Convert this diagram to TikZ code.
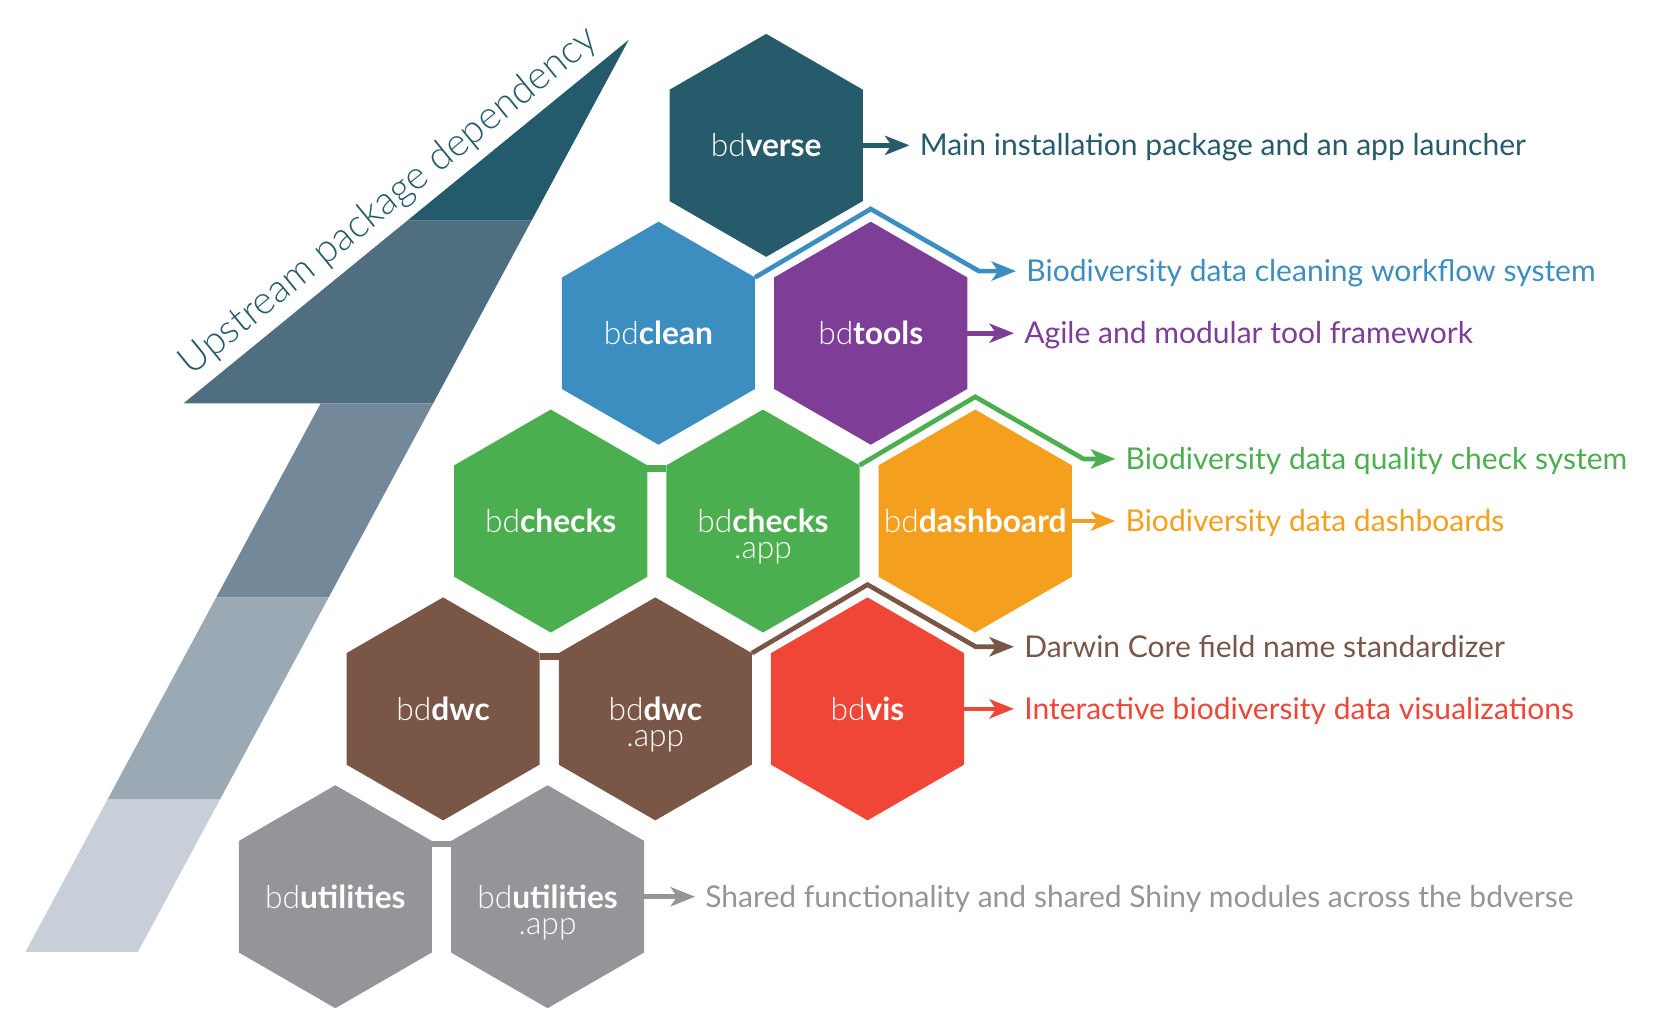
\documentclass[tikz,border=0pt]{standalone}
\usepackage{fontspec}
\setmainfont{Lato}
\IfFontExistsTF{Lato Light}{\newfontfamily\thinfont{Lato Light}}{\newfontfamily\thinfont{Lato}}
\usetikzlibrary{shapes.geometric,arrows.meta,scopes}
\definecolor{versec}{HTML}{265B6C}
\definecolor{cleanc}{HTML}{3C8DC0}
\definecolor{toolsc}{HTML}{7E3D97}
\definecolor{checkc}{HTML}{4BAF4F}
\definecolor{dashc}{HTML}{F49F1E}
\definecolor{dwcc}{HTML}{7A5646}
\definecolor{visc}{HTML}{EF4638}
\definecolor{utilc}{HTML}{939598}
\definecolor{bandA}{HTML}{C8CFD8}
\definecolor{bandB}{HTML}{9BA9B5}
\definecolor{bandC}{HTML}{738999}
\definecolor{bandD}{HTML}{4F6E80}
\definecolor{bandE}{HTML}{245B6C}
\newcommand\pkg[2]{\makebox[0pt]{\raisebox{-0.36em}[0pt][0pt]{\renewcommand\arraystretch{0.7}%
    \begin{tabular}[t]{@{}c@{}}{\thinfont bd}\textbf{#1}\\{\thinfont #2}\end{tabular}}}}

\begin{document}
\begin{tikzpicture}[x=0.01cm,y=-0.01cm,
    hex/.style={regular polygon,regular polygon sides=6,shape border rotate=30,
        minimum size=2.1cm,inner sep=0pt,outer sep=0pt,text=white,
        font=\fontsize{8.5}{10}\selectfont},
    link/.style={line width=1.25pt,-{Stealth[length=2.3mm,width=1.8mm,inset=0.6mm]}},
    desc/.style={anchor=base west,inner sep=0pt,xshift=0.9mm,yshift=-0.98mm,
        font=\fontsize{8.05}{9.5}\selectfont},
]
    \useasboundingbox (0,0) rectangle (1568,971.7);

    \fill[bandA] (24,897) -- (130,897) -- (207.5,753) -- (101.5,753) -- cycle;
    \fill[bandB] (101.5,753) -- (207.5,753) -- (309.7,563) -- (203.7,563) -- cycle;
    \fill[bandC] (203.7,563) -- (309.7,563) -- (408.2,380) -- (302.2,380) -- cycle;
    \fill[bandD] (173,380) -- (408.2,380) -- (500.8,208) -- (383.7,208) -- cycle;
    \fill[bandE] (383.7,208) -- (500.8,208) -- (592.5,37.5) -- cycle;
    \node[rotate=39.23,anchor=base west,inner sep=0pt,text=versec,
        font=\thinfont\fontsize{10.45}{12}\selectfont] (upstream) at (180,355)
        {Upstream package dependency};

    \node[hex,fill=versec] (verse) at (722,137) {\pkg{verse}{}};
    \node[hex,fill=cleanc] (clean) at (620.5,314) {\pkg{clean}{}};
    \node[hex,fill=toolsc] (tools) at (820.5,314) {\pkg{tools}{}};
    \node[hex,fill=checkc] (checks) at (519,491) {\pkg{checks}{}};
    \node[hex,fill=checkc] (checksapp) at (719,491) {\pkg{checks}{.app}};
    \node[hex,fill=dashc] (dash) at (919,491) {\pkg{dashboard}{}};
    \node[hex,fill=dwcc] (dwc) at (417.5,668) {\pkg{dwc}{}};
    \node[hex,fill=dwcc] (dwcapp) at (617.5,668) {\pkg{dwc}{.app}};
    \node[hex,fill=visc] (vis) at (817.5,668) {\pkg{vis}{}};
    \node[hex,fill=utilc] (util) at (316,845) {\pkg{utilities}{}};
    \node[hex,fill=utilc] (utilapp) at (516,845) {\pkg{utilities}{.app}};

    \fill[checkc] (checks.30) rectangle ([yshift=-0.6mm]checksapp.150);
    \fill[dwcc] (dwc.30) rectangle ([yshift=-0.6mm]dwcapp.150);
    \fill[utilc] (util.30) rectangle ([yshift=-0.6mm]utilapp.150);

    {[link]
        \draw[versec] (verse.east) -- ++(44,0) coordinate (tverse);
        \draw[toolsc] (tools.east) -- ++(44,0) coordinate (ttools);
        \draw[dashc] (dash.east) -- ++(41,0) coordinate (tdash);
        \draw[visc] (vis.east) -- ++(47,0) coordinate (tvis);
        \draw[utilc] (utilapp.east) -- ++(48,0) coordinate (tutil);
    }
    {[link]
        \draw[cleanc] (clean.30) -- ([yshift=1.2mm]tools.north)
            -- ([xshift=1.1mm,yshift=0.6mm]tools.30) -- ++(35,0) coordinate (tclean);
        \draw[checkc] (checksapp.30) -- ([yshift=1.2mm]dash.north)
            -- ([xshift=1.1mm,yshift=0.6mm]dash.30) -- ++(30,0) coordinate (tchecks);
        \draw[dwcc] (dwcapp.30) -- ([yshift=1.2mm]vis.north)
            -- ([xshift=1.1mm,yshift=0.6mm]vis.30) -- ++(36,0) coordinate (tdwc);
    }

    \node[desc,versec] (lverse) at (tverse) {Main installation package and an app launcher};
    \node[desc,cleanc] (lclean) at (tclean) {Biodiversity data cleaning workflow system};
    \node[desc,toolsc] (ltools) at (ttools) {Agile and modular tool framework};
    \node[desc,checkc] (lchecks) at (tchecks) {Biodiversity data quality check system};
    \node[desc,dashc] (ldash) at (tdash) {Biodiversity data dashboards};
    \node[desc,dwcc] (ldwc) at (tdwc) {Darwin Core field name standardizer};
    \node[desc,visc] (lvis) at (tvis) {Interactive biodiversity data visualizations};
    \node[desc,utilc] (lutil) at (tutil) {Shared functionality and shared Shiny modules across the bdverse};
\end{tikzpicture}
\end{document}
